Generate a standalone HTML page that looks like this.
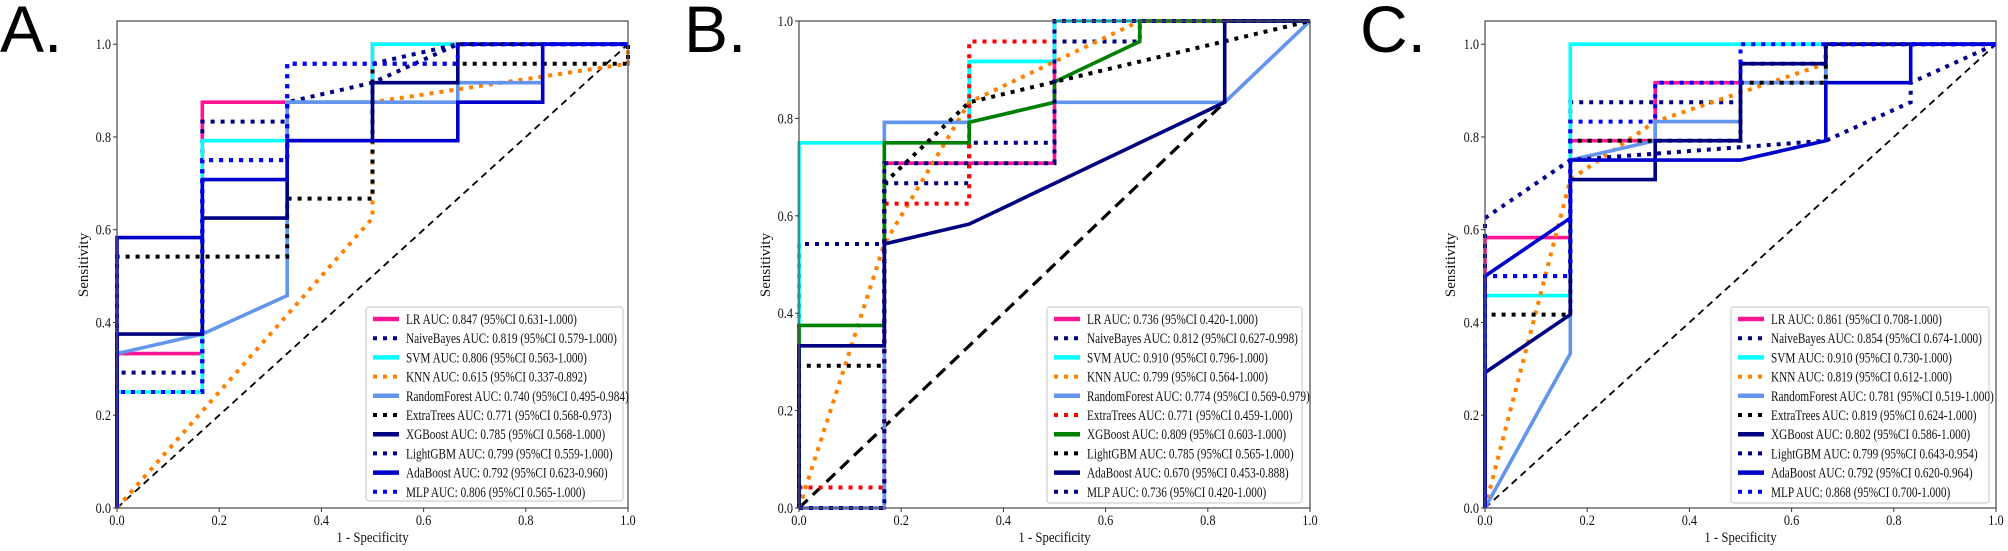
<!DOCTYPE html>
<html><head><meta charset="utf-8"><style>
html,body{margin:0;padding:0;background:#fff;}
svg{display:block;}
text{font-family:"Liberation Serif",serif;}
.pl{font-family:"Liberation Sans","DejaVu Sans",sans-serif;}
</style></head><body>
<svg id="chart" width="2008" height="551" viewBox="0 0 2008 551" xmlns="http://www.w3.org/2000/svg"></svg>
<script>
const models = ["LR","NaiveBayes","SVM","KNN","RandomForest","ExtraTrees","XGBoost","LightGBM","AdaBoost","MLP"];
const xTicks = [0.0,0.2,0.4,0.6,0.8,1.0];
const yTicks = [0.0,0.2,0.4,0.6,0.8,1.0];

const fprA = [
 [0,0,0.167,0.167,0.5,0.5,1],
 [0,0,0.167,0.167,0.333,0.333,0.5,0.667,1],
 [0,0,0.167,0.167,0.333,0.333,0.5,0.5,1],
 [0,0.5,0.5,1,1],
 [0,0,0.167,0.333,0.333,0.667,0.667,0.833,0.833,1],
 [0,0,0.333,0.333,0.5,0.5,1,1],
 [0,0,0.167,0.167,0.333,0.333,0.5,0.5,0.667,0.667,1],
 [0,0,0.167,0.167,0.333,0.333,0.5,0.667,1],
 [0,0,0.167,0.167,0.333,0.333,0.667,0.667,0.833,0.833,1],
 [0,0,0.167,0.167,0.333,0.333,0.667,0.667,1]
];
const tprA = [
 [0,0.333,0.333,0.875,0.875,1,1],
 [0,0.292,0.292,0.833,0.833,0.875,0.917,1,1],
 [0,0.25,0.25,0.792,0.792,0.875,0.875,1,1],
 [0,0.625,0.875,0.958,1],
 [0,0.333,0.375,0.458,0.875,0.875,0.917,0.917,1,1],
 [0,0.542,0.542,0.667,0.667,0.958,0.958,1],
 [0,0.375,0.375,0.625,0.625,0.792,0.792,0.917,0.917,1,1],
 [0,0.25,0.25,0.75,0.75,0.958,0.958,1,1],
 [0,0.583,0.583,0.708,0.708,0.792,0.792,0.875,0.875,1,1],
 [0,0.25,0.25,0.75,0.75,0.958,0.958,1,1]
];
const aucA = ["0.847","0.819","0.806","0.615","0.740","0.771","0.785","0.799","0.792","0.806"];
const ciA = ["0.631-1.000","0.579-1.000","0.563-1.000","0.337-0.892","0.495-0.984","0.568-0.973","0.568-1.000","0.559-1.000","0.623-0.960","0.565-1.000"];

const fprB = [
 [0,0.167,0.167,0.5,0.5,1],
 [0,0,0.167,0.167,0.333,0.333,0.5,0.5,0.667,0.667,1],
 [0,0,0.167,0.167,0.333,0.333,0.5,0.5,1],
 [0,0.167,0.333,0.667,1],
 [0,0.167,0.167,0.333,0.5,0.833,1],
 [0,0,0.167,0.167,0.333,0.333,0.5,0.5,1],
 [0,0,0.167,0.167,0.333,0.333,0.5,0.5,0.667,0.667,1],
 [0,0,0.167,0.167,0.333,0.5,1],
 [0,0,0.167,0.167,0.333,0.667,0.833,0.833,1],
 [0,0.167,0.167,0.5,0.5,1]
];
const tprB = [
 [0,0,0.708,0.708,1,1],
 [0,0.542,0.542,0.667,0.667,0.75,0.75,0.958,0.958,1,1],
 [0,0.75,0.75,0.792,0.792,0.917,0.917,1,1],
 [0,0.542,0.833,1,1],
 [0,0,0.792,0.792,0.833,0.833,1],
 [0,0.042,0.042,0.625,0.625,0.958,0.958,1,1],
 [0,0.375,0.375,0.75,0.75,0.792,0.833,0.875,0.958,1,1],
 [0,0.292,0.292,0.667,0.833,0.875,1],
 [0,0.333,0.333,0.542,0.583,0.75,0.833,1,1],
 [0,0,0.708,0.708,1,1]
];
const aucB = ["0.736","0.812","0.910","0.799","0.774","0.771","0.809","0.785","0.670","0.736"];
const ciB = ["0.420-1.000","0.627-0.998","0.796-1.000","0.564-1.000","0.569-0.979","0.459-1.000","0.603-1.000","0.565-1.000","0.453-0.888","0.420-1.000"];

const fprC = [
 [0,0,0.167,0.167,0.333,0.333,0.667,0.667,1],
 [0,0,0.167,0.167,0.5,0.5,0.667,0.667,1],
 [0,0,0.167,0.167,1],
 [0,0.167,0.333,0.667,0.667,1],
 [0,0.167,0.167,0.333,0.333,0.5,0.5,0.667,0.667,1],
 [0,0,0.167,0.167,0.5,0.5,0.667,0.667,1],
 [0,0,0.167,0.167,0.333,0.333,0.5,0.5,0.667,0.667,1],
 [0,0,0.167,0.667,0.833,0.833,1],
 [0,0,0.167,0.167,0.5,0.667,0.667,0.833,0.833,1],
 [0,0,0.167,0.167,0.333,0.333,0.5,0.5,1]
];
const tprC = [
 [0,0.583,0.583,0.792,0.792,0.917,0.917,1,1],
 [0,0.5,0.5,0.875,0.875,0.958,0.958,1,1],
 [0,0.458,0.458,1,1],
 [0,0.708,0.833,0.958,1,1],
 [0,0.333,0.75,0.792,0.833,0.833,0.917,0.917,1,1],
 [0,0.417,0.417,0.792,0.792,0.917,0.917,1,1],
 [0,0.292,0.417,0.708,0.708,0.792,0.792,0.958,0.958,1,1],
 [0,0.625,0.75,0.792,0.875,0.917,1],
 [0,0.5,0.625,0.75,0.75,0.792,0.917,0.917,1,1],
 [0,0.5,0.5,0.833,0.833,0.917,0.917,1,1]
];
const aucC = ["0.861","0.854","0.910","0.819","0.781","0.819","0.802","0.799","0.792","0.868"];
const ciC = ["0.708-1.000","0.674-1.000","0.730-1.000","0.612-1.000","0.519-1.000","0.624-1.000","0.586-1.000","0.643-0.954","0.620-0.964","0.700-1.000"];

const NS="http://www.w3.org/2000/svg";
const svg=document.getElementById('chart');
function mk(tag,attrs,parent){const e=document.createElementNS(NS,tag);for(const k in attrs)e.setAttribute(k,attrs[k]);(parent||svg).appendChild(e);return e;}
function squeeze(el,f){const L=el.getComputedTextLength();if(L>0){el.setAttribute('textLength',(L*f).toFixed(1));el.setAttribute('lengthAdjust','spacingAndGlyphs');}}

const stylesA=[["#ff1493",0],["#000080",1],["#00ffff",0],["#ff8000",1],["#6495ed",0],["#000000",1],["#000080",0],["#00008b",1],["#0000cd",0],["#0000ff",1]];
const stylesB=[["#ff1493",0],["#000080",1],["#00ffff",0],["#ff8000",1],["#6495ed",0],["#ff0000",1],["#008000",0],["#000000",1],["#000080",0],["#000080",1]];

const panels=[
 {id:"a",label:"A.",lx:0,x0:117,ymax:1.05,fpr:fprA,tpr:tprA,auc:aucA,ci:ciA,st:stylesA,diagW:1.8,diagDash:"7 5",leg:[366,307,257,194],sx:88},
 {id:"b",label:"B.",lx:684,x0:799,ymax:1.0,fpr:fprB,tpr:tprB,auc:aucB,ci:ciB,st:stylesB,diagW:3.2,diagDash:"12 7",leg:[1047,307,255,196],sx:770},
 {id:"c",label:"C.",lx:1360,x0:1485,ymax:1.05,fpr:fprC,tpr:tprC,auc:aucC,ci:ciC,st:stylesA,diagW:1.8,diagDash:"7 5",leg:[1731,307,258,196],sx:1455}
];
const TOP=21,BOT=508,W=511;

panels.forEach(p=>{
 const g=mk('g',{});
 
 
 const X=v=>p.x0+v*W;
 const Y=v=>BOT-v*(BOT-TOP)/p.ymax;
 const t=mk('text',{x:p.lx,y:52,'font-size':66,class:'pl',fill:'#000'},g);
 t.textContent=p.label;
 
 
 const d=mk('line',{x1:X(0),y1:Y(0),x2:X(1),y2:Y(1),stroke:'#000','stroke-width':p.diagW,'stroke-dasharray':p.diagDash},g);
 
 
 p.fpr.forEach((fx,i)=>{
  const pts=fx.map((v,j)=>X(v).toFixed(1)+','+Y(p.tpr[i][j]).toFixed(1)).join(' ');
  const [col,dot]=p.st[i];
  const pl=mk('polyline',{points:pts,fill:'none',stroke:col,'stroke-width':dot?4:3.6,'stroke-linejoin':'miter'},g);
  if(dot)pl.setAttribute('stroke-dasharray','4 6');
  
  
 });
 const fr=mk('rect',{x:X(0),y:TOP,width:W,height:BOT-TOP,fill:'none',stroke:'#555','stroke-width':1.3},g);
 
 
 xTicks.forEach(v=>{
  mk('line',{x1:X(v),y1:BOT,x2:X(v),y2:BOT+4,stroke:'#333','stroke-width':1},g);
  const tt=mk('text',{x:X(v),y:BOT+17,'font-size':15,'text-anchor':'middle',fill:'#111'},g);
  tt.textContent=v.toFixed(1);
  
  
  squeeze(tt,0.82);
 });
 yTicks.forEach(v=>{
  mk('line',{x1:X(0)-4,y1:Y(v),x2:X(0),y2:Y(v),stroke:'#333','stroke-width':1},g);
  const tt=mk('text',{x:X(0)-6,y:Y(v)+5,'font-size':15,'text-anchor':'end',fill:'#111'},g);
  tt.textContent=v.toFixed(1);
  
  
  squeeze(tt,0.82);
 });
 const xl=mk('text',{x:X(0.5),y:542,'font-size':15,'text-anchor':'middle',fill:'#111'},g);
 xl.textContent='1 - Specificity';
 
 
 squeeze(xl,0.85);
 const yl=mk('text',{x:p.sx,y:265,'font-size':15,'text-anchor':'middle',fill:'#111',transform:`rotate(-90 ${p.sx} 265)`},g);
 yl.textContent='Sensitivity';
 
 
 const [lx,ly,lw,lh]=p.leg;
 const lg=mk('g',{},g);
 
 
 mk('rect',{x:lx,y:ly,width:lw,height:lh,rx:3,fill:'#fff','fill-opacity':0.9,stroke:'#d0d0d0','stroke-width':1.2},lg);
 models.forEach((m,i)=>{
  const ry=ly+12+i*19.2;
  const [col,dot]=p.st[i];
  const sw=mk('line',{x1:lx+7,y1:ry,x2:lx+33,y2:ry,stroke:col,'stroke-width':dot?4:4.5},lg);
  if(dot)sw.setAttribute('stroke-dasharray','4 6');
  const tx=mk('text',{x:lx+40,y:ry+5,'font-size':15,fill:'#111'},lg);
  tx.textContent=`${m} AUC: ${p.auc[i]} (95%CI ${p.ci[i]})`;
  
  
  squeeze(tx,0.75);
 });
});
</script>
</body></html>
